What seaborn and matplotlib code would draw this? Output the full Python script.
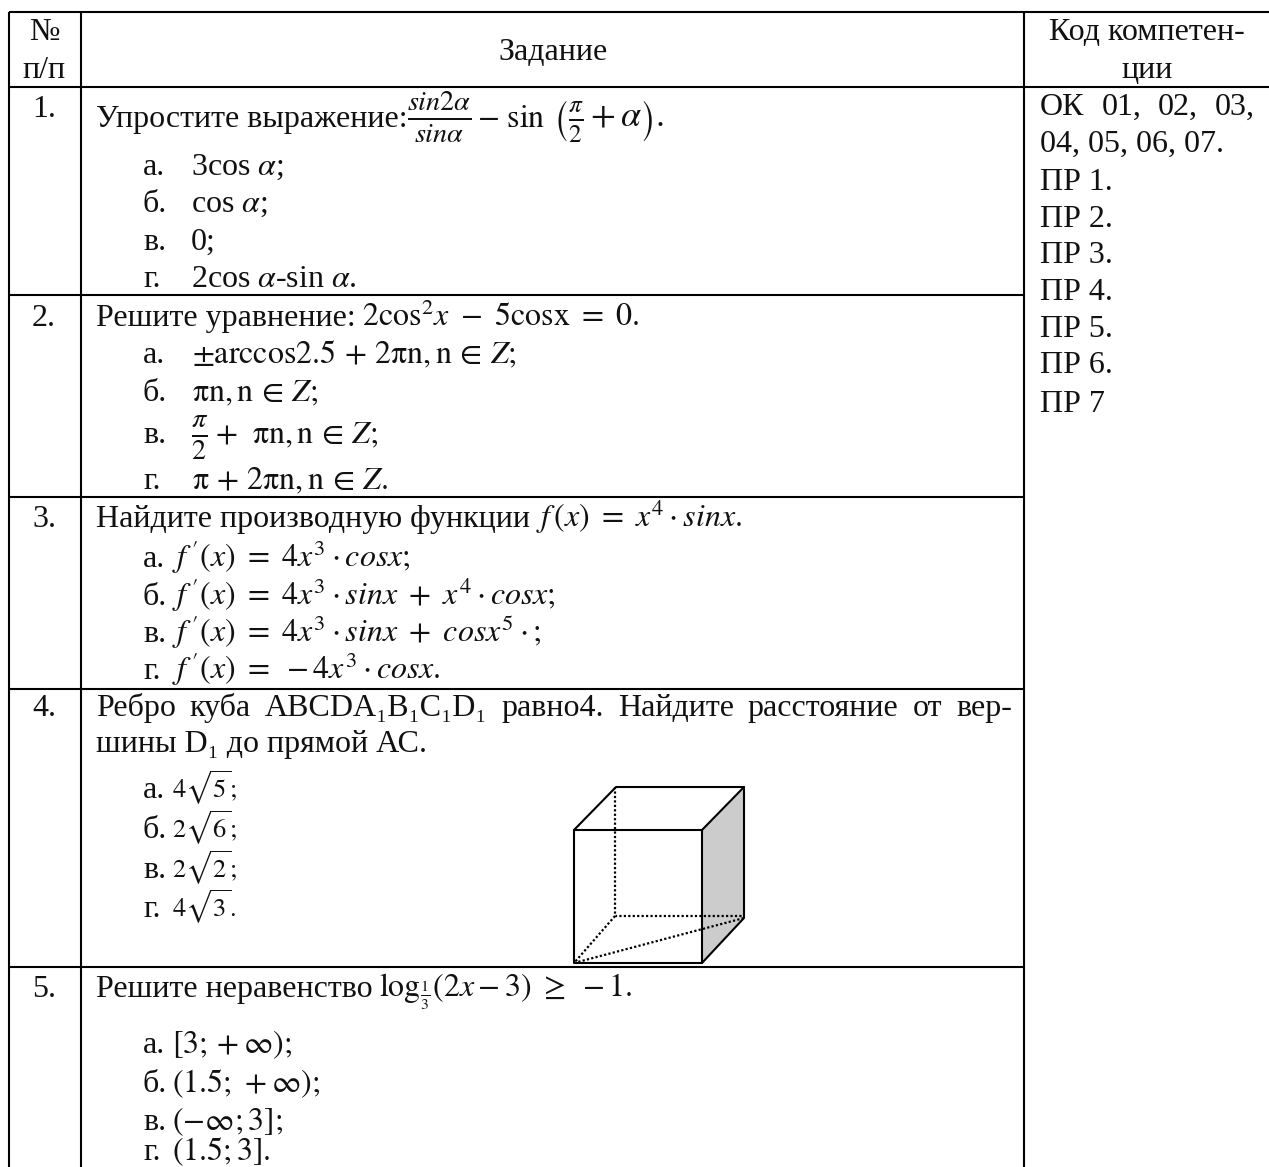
import matplotlib
matplotlib.use("Agg")
import matplotlib.pyplot as plt
import seaborn as sns

sns.set_theme(style="white")
plt.rcParams["font.family"] = ["Liberation Serif", "DejaVu Serif"]
plt.rcParams["mathtext.fontset"] = "stix"

W, H = 1269, 1167
FS = 23

# ---- content ----
header_no = ["№", "п/п"]
header_task = "Задание"
header_code = ["Код компетен-", "ции"]
row_numbers = ["1.", "2.", "3.", "4.", "5."]
code_justified = ["ОК", "01,", "02,", "03,"]
code_lines = ["04, 05, 06, 07.", "ПР 1.", "ПР 2.", "ПР 3.", "ПР 4.", "ПР 5.", "ПР 6.", "ПР 7"]

q1 = ["Упростите выражение:", r"$\frac{sin2\alpha}{sin\alpha}$", r"$-\ \mathrm{sin}$", r"$\left(\frac{\pi}{2}+\alpha\right).$"]
q1_opts = [("а.", r"3cos $\alpha$;"), ("б.", r"cos $\alpha$;"), ("в.", "0;"), ("г.", r"2cos $\alpha$-sin $\alpha$.")]
q2 = ["Решите уравнение:", r"$2\mathrm{cos}^2x\ -\ 5\mathrm{cosx}\ =\ 0.$"]
q2_opts = [("а.", r"$\pm\mathrm{arccos2.5}\,+\,2\mathrm{\pi n},\mathrm{n}\,\in\,Z;$"),
           ("б.", r"$\mathrm{\pi n},\mathrm{n}\,\in\,Z;$"),
           ("в.", r"$+\ \ \mathrm{\pi n},\mathrm{n}\,\in\,Z;$"),
           ("г.", r"$\mathrm{\pi}\,+\,2\mathrm{\pi n},\mathrm{n}\,\in\,Z.$")]
q2_fraction = r"$\frac{\pi}{2}$"
q3 = ["Найдите производную функции", r"$f\,(x)\ =\ x^4\cdot sinx.$"]
q3_opts = [("а.", r"$f^{\,\prime}(x)\ =\ 4x^3\cdot cosx;$"),
           ("б.", r"$f^{\,\prime}(x)\ =\ 4x^3\cdot sinx\ +\ x^4\cdot cosx;$"),
           ("в.", r"$f^{\,\prime}(x)\ =\ 4x^3\cdot sinx\ +\ cosx^5\cdot;$"),
           ("г.", r"$f^{\,\prime}(x)\ =\ -4x^3\cdot cosx.$")]
q4_words = ["Ребро", "куба", "ABCDA₁B₁C₁D₁", "равно4.", "Найдите", "расстояние", "от", "вер-"]
q4_line2 = "шины D₁ до прямой АС."
q4_opts = [("а.", r"$4\sqrt{5};$"), ("б.", r"$2\sqrt{6};$"), ("в.", r"$2\sqrt{2};$"), ("г.", r"$4\sqrt{3}.$")]
q5 = ["Решите неравенство", r"$\mathrm{log}_{\frac{1}{3}}(2x-3)\ \geq\ -1.$"]
q5_opts = [("а.", r"$[3;+\infty);$"), ("б.", r"$(1.5;\,+\infty);$"), ("в.", r"$(-\infty;3];$"), ("г.", r"$(1.5;3].$")]

# ---- layout (pixel grid of the page) ----
grid_h = [12, 87, 295, 497, 689, 967]
grid_h_ends = [W, W, 1024, 1024, 1024, 1024]
grid_v = [9, 81, 1024]

fig = plt.figure(figsize=(W / 100, H / 100), dpi=100, facecolor="white")
ax = fig.add_axes([0, 0, 1, 1])
ax.set_xlim(0, W)
ax.set_ylim(H, 0)
ax.axis("off")
sns.despine(ax=ax, left=True, bottom=True)

for y, xe in zip(grid_h, grid_h_ends):
    ax.plot([grid_v[0], xe], [y, y], color="black", lw=1.5, solid_capstyle="butt")
for x in grid_v:
    ax.plot([x, x], [grid_h[0], H], color="black", lw=1.5, solid_capstyle="butt")


def put(x, y, s, ha="left", size=FS):
    return ax.text(x, y, s, ha=ha, va="baseline", fontsize=size, color="#111111")


fig.canvas.draw()
rend = fig.canvas.get_renderer()


def flow(x, y, pieces, gap=5):
    for p in pieces:
        t = put(x, y, p)
        x = t.get_window_extent(rend).x1 + gap


def justify(words, x0, x1, y):
    widths = [put(0, y, w) for w in words]
    ws = [t.get_window_extent(rend).width for t in widths]
    for t in widths:
        t.remove()
    gap = (x1 - x0 - sum(ws)) / (len(words) - 1)
    x = x0
    for w, wd in zip(words, ws):
        put(x, y, w)
        x += wd + gap


# header
put(44, 40, header_no[0], ha="center")
put(44, 78, header_no[1], ha="center")
put(553, 60, header_task, ha="center")
put(1147, 40, header_code[0], ha="center")
put(1147, 78, header_code[1], ha="center")

# row numbers
for s, y in zip(row_numbers, [117, 326, 527, 716, 997]):
    put(44, y, s, ha="center")

# right column
justify(code_justified, 1040, 1255, 115)
for s, y in zip(code_lines, [152, 190, 227, 263, 300, 337, 373, 412]):
    put(1040, y, s)

# task 1
put(96, 127, q1[0])
put(407, 127, q1[1], size=FS + 6)
put(477, 127, q1[2])
put(553, 127, q1[3], size=FS + 3)
for (a, b), y in zip(q1_opts, [175, 212, 250, 287]):
    put(143, y, a)
    put(191, y, b)

# task 2
flow(96, 326, q2, gap=6)
for (a, b), y in zip(q2_opts, [363, 401, 443, 489]):
    put(143, y, a)
    if a == "в.":
        put(191, y, q2_fraction, size=FS + 6)
        put(215, y, b)
    else:
        put(192, y, b)

# task 3
flow(96, 527, q3, gap=6)
for (a, b), y in zip(q3_opts, [567, 605, 642, 679]):
    put(143, y, a)
    put(172, y, b)

# task 4
justify(q4_words, 96, 1012, 716)
put(96, 752, q4_line2)
for (a, b), y in zip(q4_opts, [798, 838, 878, 917]):
    put(143, y, a)
    put(172, y, b, size=FS - 4)

# cube
shade_x = [702, 744, 744, 702]
shade_y = [830, 787, 918, 963]
ax.fill(shade_x, shade_y, color="#cccccc", lw=0)
solid = [([574, 702, 702, 574, 574], [830, 830, 963, 963, 830]),
         ([574, 616, 744, 702], [830, 787, 787, 830]),
         ([744, 744, 702], [787, 918, 963])]
dotted = [([615, 615, 744], [787, 916, 916]),
          ([615, 574], [916, 963]),
          ([574, 744], [963, 918])]
for xs, ys in solid:
    sns.lineplot(x=xs, y=ys, sort=False, estimator=None, color="black", lw=1.5, ax=ax)
for xs, ys in dotted:
    sns.lineplot(x=xs, y=ys, sort=False, estimator=None, color="black", lw=1.6, ls=(0, (1, 1)), ax=ax)

# task 5
flow(96, 997, q5, gap=6)
for (a, b), y in zip(q5_opts, [1053, 1092, 1130, 1160]):
    put(143, y, a)
    put(172, y, b)

ax.set_xlim(0, W)
ax.set_ylim(H, 0)
fig.savefig("out.png", dpi=100)
